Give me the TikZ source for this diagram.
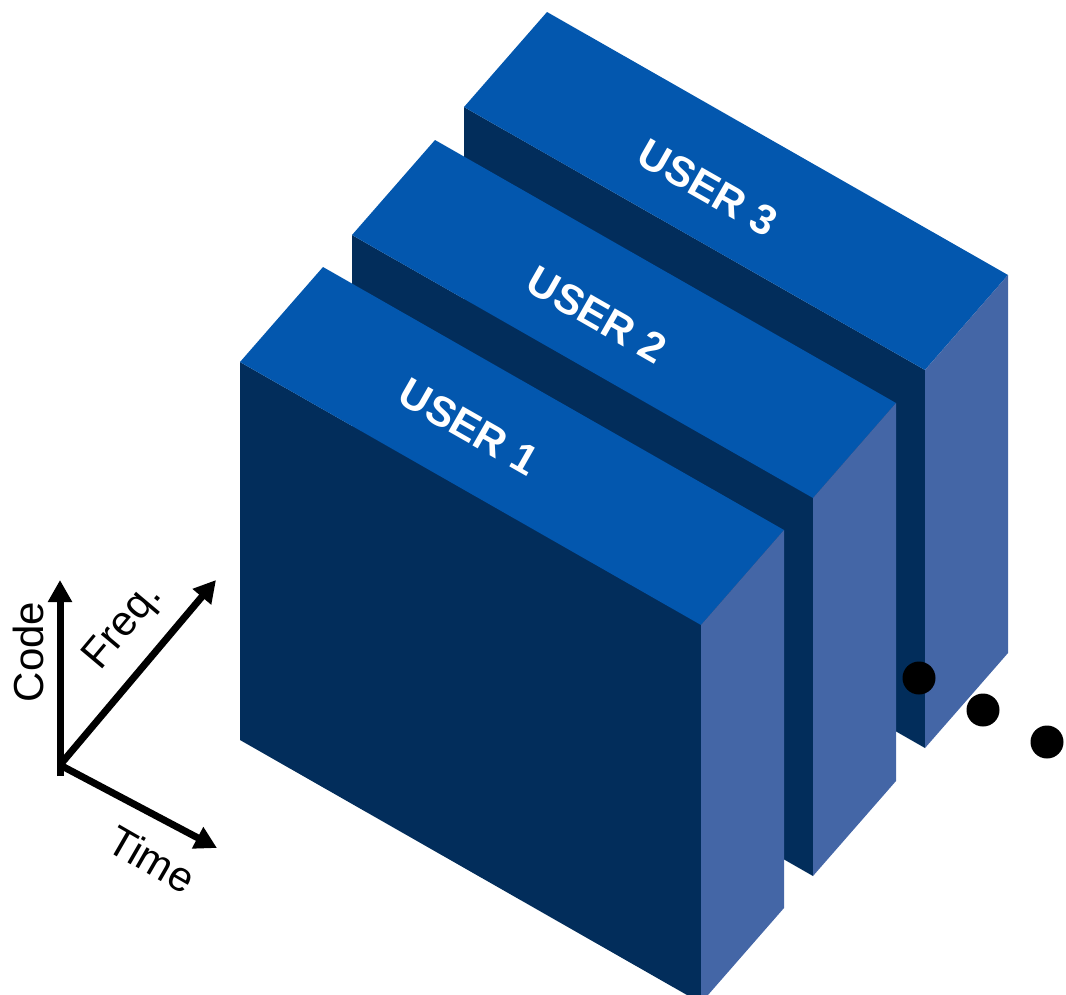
\documentclass[tikz,border=0pt]{standalone}
\usepackage{fontspec}
\setmainfont{Liberation Sans}
\usetikzlibrary{arrows.meta}
\definecolor{topc}{RGB}{3,87,174}
\definecolor{frontc}{RGB}{2,45,91}
\definecolor{sidec}{RGB}{68,102,166}
\tikzset{
  axis/.style={line width=7pt,-{Triangle[length=22pt,width=23pt]}},
  axlabel/.style={font=\fontsize{42}{42}\selectfont, inner sep=0pt},
  userlabel/.style={font=\fontsize{42}{42}\selectfont\bfseries, text=white, inner sep=0pt, rotate=-29.7},
  dot/.style={fill=black},
}
\newcommand{\blockat}[2]{%
  \fill[frontc] (#1,#2) -- ++(461,263) -- ++(0,378) -- ++(-461,-263) -- cycle;
  \fill[topc] (#1,#2) -- ++(83,-95) -- ++(461,263) -- ++(-83,95) -- cycle;
  \fill[sidec] (#1+461,#2+263) -- ++(83,-95) -- ++(0,378) -- ++(-83,95) -- cycle;
}
\begin{document}
\begin{tikzpicture}[x=1pt,y=-1pt]
\useasboundingbox (0,0) rectangle (1066,994);
\begin{scope}
\clip (0,0) rectangle (1066,994);
\blockat{464}{107}
\blockat{352}{235}
\blockat{240}{362}
\end{scope}
\node[userlabel] (u3) at (708,188) {USER 3};
\node[userlabel] (u2) at (597,315) {USER 2};
\node[userlabel] (u1) at (469,427) {USER 1};
\fill[dot] (919,678) circle (16.5);
\fill[dot] (983,710) circle (16.5);
\fill[dot] (1047,742) circle (16.5);
\coordinate (o) at (60,765);
\coordinate (codeend) at (60,580);
\coordinate (freqend) at (216,580);
\coordinate (timeend) at (217,848);
\draw[line width=7pt] (60,776) -- (o);
\draw[axis] (o) -- (codeend);
\draw[axis] (o) -- (freqend);
\draw[axis] (o) -- (timeend);
\node[axlabel, rotate=90] (code) at (28,652) {Code};
\node[axlabel, rotate=50] (freq) at (124,627) {Freq.};
\node[axlabel, rotate=-30] (time) at (152,859) {Time};
\end{tikzpicture}
\end{document}
